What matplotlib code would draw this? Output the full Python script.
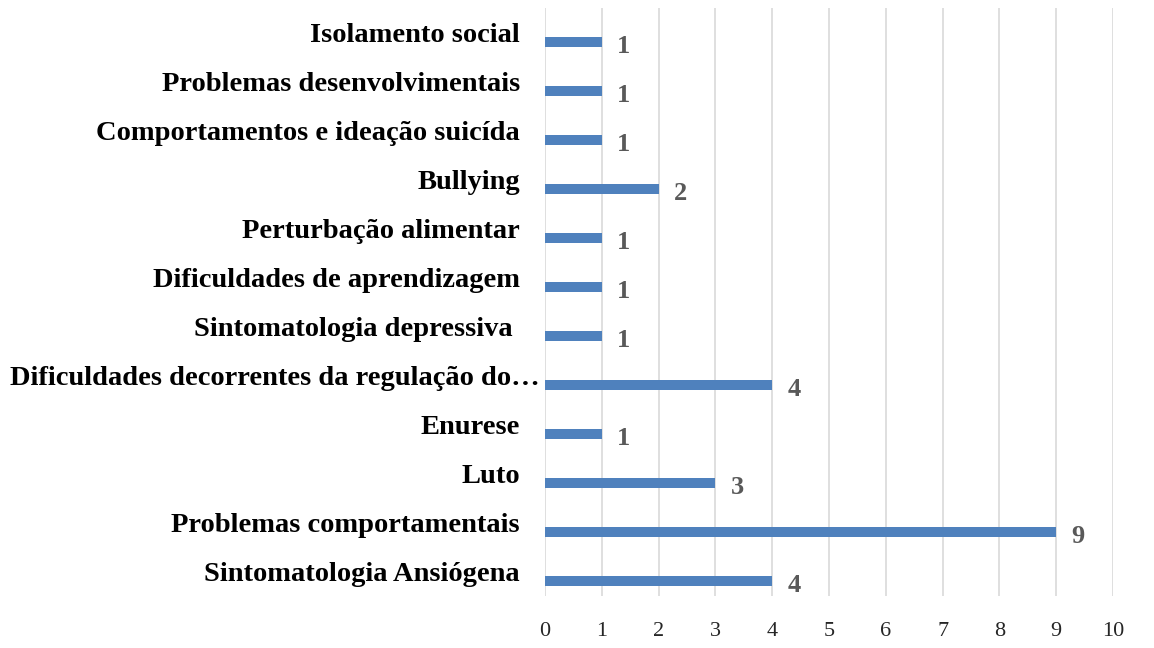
import matplotlib
matplotlib.use("Agg")
import matplotlib.pyplot as plt
import matplotlib.transforms as mtransforms

categories = [
    "Sintomatologia Ansiógena",
    "Problemas comportamentais",
    "Luto",
    "Enurese",
    "Dificuldades decorrentes da regulação do…",
    "Sintomatologia depressiva ",
    "Dificuldades de aprendizagem",
    "Perturbação alimentar",
    "Bullying",
    "Comportamentos e ideação suicída",
    "Problemas desenvolvimentais",
    "Isolamento social",
]
values = [4, 9, 3, 1, 4, 1, 1, 1, 2, 1, 1, 1]
xticks = list(range(0, 11))

plt.rcParams["font.family"] = ["Liberation Serif", "DejaVu Serif"]

fig = plt.figure(figsize=(11.54, 6.48), dpi=100)
ax = fig.add_axes([0.4723, 0.0802, 0.4922, 0.9075])

pos = list(range(len(categories)))
ax.barh([p - 0.2 for p in pos], values, height=0.2, color="#4F81BD", zorder=3)

for p, v in zip(pos, values):
    ax.annotate(str(v), (v, p - 0.2), xytext=(11, -3), textcoords="offset points",
                ha="left", va="center", fontsize=19, fontweight="bold",
                color="#595959")

ax.set_xlim(0, 10)
ax.set_ylim(-0.5, len(categories) - 0.5)
ax.set_xticks(xticks)
ax.set_xticklabels([str(t) for t in xticks], fontsize=16, color="#262626")
ax.set_yticks(pos)
ax.set_yticklabels(categories, fontsize=20.5, fontweight="bold", color="black")
ax.tick_params(axis="y", length=0, pad=18)
ax.tick_params(axis="x", length=0, pad=19)
ax.grid(axis="x", color="#D9D9D9", linewidth=1.2, zorder=0)
for s in ax.spines.values():
    s.set_visible(False)

# the truncated label runs up to the axis, as in the original
for lbl in ax.get_yticklabels():
    if lbl.get_text().endswith("…"):
        lbl.set_transform(lbl.get_transform() + mtransforms.ScaledTranslation(
            14 / 72, 0, fig.dpi_scale_trans))

fig.savefig("out.png", dpi=100)
